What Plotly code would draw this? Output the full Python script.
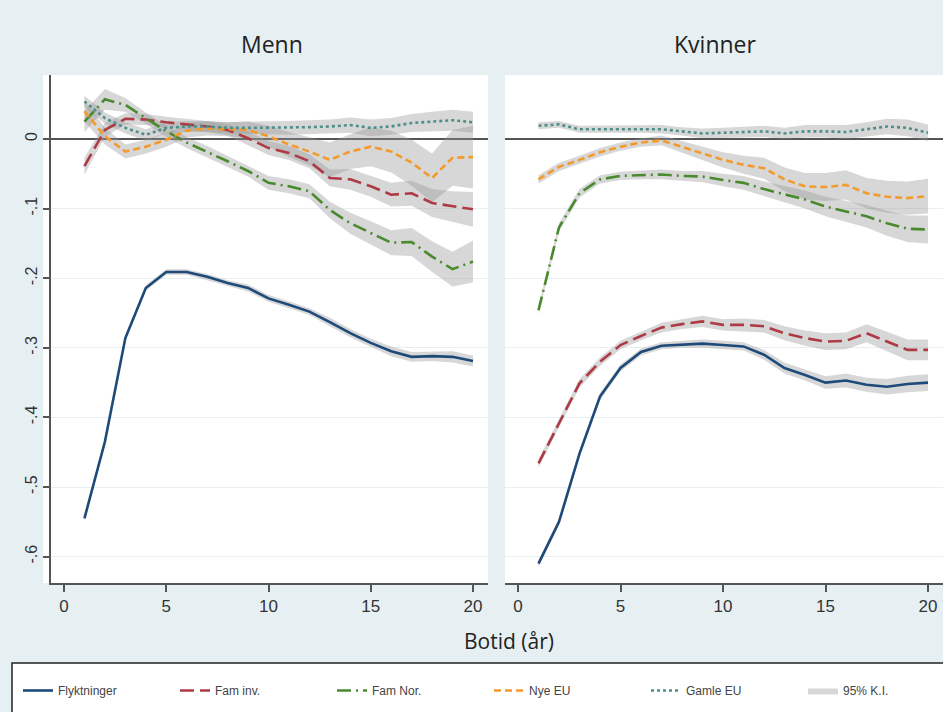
import plotly.graph_objects as go

years = list(range(1, 21))
series_names = ["Flyktninger", "Fam inv.", "Fam Nor.", "Nye EU", "Gamle EU"]
ci_label = "95% K.I."
panel_titles = ["Menn", "Kvinner"]
x_title = "Botid (år)"
y_tickvals = [0, -0.1, -0.2, -0.3, -0.4, -0.5, -0.6]
y_ticktext = ["0", "-.1", "-.2", "-.3", "-.4", "-.5", "-.6"]
x_tickvals = [0, 5, 10, 15, 20]

# ---- Menn (men) ----
men_flykt = [-0.545, -0.435, -0.286, -0.214, -0.191, -0.191, -0.198, -0.207, -0.214, -0.229,
             -0.238, -0.248, -0.263, -0.279, -0.293, -0.305, -0.313, -0.312, -0.313, -0.319]
men_faminv = [-0.039, 0.013, 0.029, 0.028, 0.024, 0.021, 0.018, 0.013, 0.001, -0.013,
              -0.020, -0.032, -0.056, -0.058, -0.068, -0.080, -0.078, -0.092, -0.097, -0.101]
men_famnor = [0.025, 0.057, 0.049, 0.030, 0.011, -0.005, -0.018, -0.032, -0.046, -0.063,
              -0.068, -0.075, -0.102, -0.121, -0.135, -0.149, -0.148, -0.169, -0.187, -0.176]
men_nyeeu = [0.040, 0.004, -0.018, -0.011, -0.001, 0.012, 0.015, 0.014, 0.013, 0.004,
             -0.008, -0.018, -0.030, -0.018, -0.011, -0.018, -0.034, -0.056, -0.027, -0.026]
men_gamleeu = [0.054, 0.030, 0.016, 0.006, 0.016, 0.018, 0.018, 0.016, 0.016, 0.016,
               0.016, 0.017, 0.018, 0.020, 0.016, 0.018, 0.023, 0.025, 0.027, 0.024]

men_flykt_ci = [0.004, 0.004, 0.004, 0.004, 0.004, 0.004, 0.004, 0.004, 0.005, 0.005,
                0.005, 0.005, 0.006, 0.006, 0.006, 0.007, 0.007, 0.007, 0.008, 0.008]
men_faminv_ci = [0.012, 0.010, 0.008, 0.008, 0.008, 0.008, 0.008, 0.008, 0.010, 0.010,
                 0.010, 0.010, 0.012, 0.015, 0.015, 0.017, 0.018, 0.020, 0.022, 0.025]
men_famnor_ci = [0.015, 0.015, 0.010, 0.008, 0.008, 0.008, 0.008, 0.008, 0.008, 0.010,
                 0.010, 0.010, 0.012, 0.015, 0.017, 0.018, 0.020, 0.022, 0.025, 0.030]
men_nyeeu_ci = [0.015, 0.012, 0.010, 0.010, 0.010, 0.010, 0.010, 0.010, 0.012, 0.015,
                0.018, 0.020, 0.025, 0.025, 0.028, 0.030, 0.033, 0.035, 0.040, 0.045]
men_gamleeu_ci = [0.008, 0.008, 0.008, 0.008, 0.008, 0.008, 0.008, 0.008, 0.009, 0.009,
                  0.010, 0.010, 0.010, 0.011, 0.012, 0.012, 0.013, 0.014, 0.015, 0.015]

# ---- Kvinner (women) ----
wom_flykt = [-0.610, -0.550, -0.452, -0.370, -0.329, -0.306, -0.297, -0.295, -0.294, -0.296,
             -0.298, -0.310, -0.329, -0.339, -0.350, -0.347, -0.353, -0.356, -0.352, -0.350]
wom_faminv = [-0.466, -0.408, -0.351, -0.320, -0.296, -0.283, -0.271, -0.266, -0.262, -0.267,
              -0.267, -0.269, -0.279, -0.286, -0.291, -0.290, -0.279, -0.291, -0.303, -0.303]
wom_famnor = [-0.246, -0.127, -0.078, -0.058, -0.053, -0.052, -0.051, -0.053, -0.054, -0.059,
              -0.063, -0.072, -0.079, -0.087, -0.097, -0.104, -0.111, -0.121, -0.129, -0.130]
wom_nyeeu = [-0.058, -0.040, -0.030, -0.019, -0.011, -0.005, -0.002, -0.011, -0.020, -0.030,
             -0.037, -0.042, -0.058, -0.068, -0.069, -0.066, -0.078, -0.083, -0.085, -0.082]
wom_gamleeu = [0.019, 0.021, 0.014, 0.014, 0.014, 0.014, 0.014, 0.011, 0.008, 0.009,
               0.010, 0.011, 0.008, 0.011, 0.011, 0.010, 0.014, 0.018, 0.016, 0.009]

wom_flykt_ci = [0.005, 0.005, 0.005, 0.005, 0.005, 0.005, 0.005, 0.005, 0.006, 0.006,
                0.006, 0.007, 0.008, 0.008, 0.009, 0.010, 0.010, 0.011, 0.012, 0.012]
wom_faminv_ci = [0.006, 0.006, 0.006, 0.006, 0.006, 0.006, 0.007, 0.007, 0.008, 0.008,
                 0.009, 0.009, 0.010, 0.011, 0.012, 0.012, 0.013, 0.014, 0.015, 0.015]
wom_famnor_ci = [0.006, 0.006, 0.006, 0.006, 0.006, 0.006, 0.007, 0.007, 0.008, 0.009,
                 0.010, 0.011, 0.012, 0.013, 0.014, 0.015, 0.016, 0.018, 0.019, 0.020]
wom_nyeeu_ci = [0.006, 0.006, 0.006, 0.006, 0.006, 0.006, 0.007, 0.008, 0.010, 0.011,
                0.013, 0.015, 0.017, 0.019, 0.020, 0.021, 0.022, 0.023, 0.024, 0.025]
wom_gamleeu_ci = [0.005, 0.005, 0.005, 0.005, 0.005, 0.005, 0.006, 0.006, 0.007, 0.007,
                  0.008, 0.008, 0.008, 0.009, 0.009, 0.010, 0.010, 0.011, 0.012, 0.012]

colors = ["#1d4a78", "#ad3a45", "#4a8a2e", "#f39a2c", "#4f8f8a"]
dashes = ["solid", "14px,6px", "14px,5px,2px,5px", "7px,4px", "3px,3px"]
band_color = "rgba(150,150,150,0.38)"
bg = "#e6f0f3"

panels = [
    ([men_flykt, men_faminv, men_famnor, men_nyeeu, men_gamleeu],
     [men_flykt_ci, men_faminv_ci, men_famnor_ci, men_nyeeu_ci, men_gamleeu_ci], "x", "y"),
    ([wom_flykt, wom_faminv, wom_famnor, wom_nyeeu, wom_gamleeu],
     [wom_flykt_ci, wom_faminv_ci, wom_famnor_ci, wom_nyeeu_ci, wom_gamleeu_ci], "x2", "y2"),
]

fig = go.Figure()
ci_shown = False
for vals, cis, xa, ya in panels:
    for v, c in zip(vals, cis):
        upper = [a + b for a, b in zip(v, c)]
        lower = [a - b for a, b in zip(v, c)]
        fig.add_trace(go.Scatter(
            x=years + years[::-1], y=upper + lower[::-1],
            fill="toself", fillcolor=band_color, line=dict(width=0),
            mode="lines", name=ci_label, legendgroup="ci",
            showlegend=not ci_shown, legendrank=6, hoverinfo="skip",
            xaxis=xa, yaxis=ya))
        ci_shown = True
for pi, (vals, cis, xa, ya) in enumerate(panels):
    for i, v in enumerate(vals):
        fig.add_trace(go.Scatter(
            x=years, y=v, mode="lines", name=series_names[i],
            line=dict(color=colors[i], width=2.6, dash=dashes[i]),
            legendgroup=series_names[i], showlegend=(pi == 0),
            legendrank=i + 1, xaxis=xa, yaxis=ya))

W, H = 943, 712
top_px, bot_px = 75, 583
ydom = [1 - bot_px / H, 1 - top_px / H]
yrange = [(139 - bot_px) / 696, (139 - top_px) / 696]

axis_font = dict(family="Liberation Sans, Arial, sans-serif", size=17, color="#333")
title_font = dict(family="Open Sans, sans-serif", size=23, color="#222")

fig.update_layout(
    width=W, height=H,
    margin=dict(l=0, r=0, t=0, b=0, autoexpand=False),
    paper_bgcolor=bg, plot_bgcolor="white",
    showlegend=True,
    xaxis=dict(domain=[51 / W, 488 / W], range=[(51 - 64) / 20.45, (488 - 64) / 20.45],
               tickvals=x_tickvals, ticks="outside", ticklen=7, tickwidth=1.5,
               tickcolor="#555", showline=True, linecolor="#555", linewidth=1.5,
               showgrid=False, zeroline=False, tickfont=axis_font, anchor="y"),
    yaxis=dict(domain=ydom, range=yrange, tickvals=y_tickvals, ticktext=y_ticktext,
               tickangle=-90, ticks="outside", ticklen=6, tickwidth=1.5, tickcolor="#555",
               showline=True, linecolor="#555", linewidth=1.5,
               showgrid=True, gridcolor="#e8eff1", gridwidth=1,
               zeroline=True, zerolinecolor="#555", zerolinewidth=1.5,
               tickfont=dict(family="Liberation Sans, Arial, sans-serif", size=16, color="#333"),
               anchor="x"),
    xaxis2=dict(domain=[505 / W, 1.0], range=[(505 - 518) / 20.5, (943 - 518) / 20.5],
                tickvals=x_tickvals, ticks="outside", ticklen=7, tickwidth=1.5,
                tickcolor="#555", showline=True, linecolor="#555", linewidth=1.5,
                showgrid=False, zeroline=False, tickfont=axis_font, anchor="y2"),
    yaxis2=dict(domain=ydom, range=yrange, tickvals=y_tickvals, showticklabels=False,
                ticks="", showline=False,
                showgrid=True, gridcolor="#e8eff1", gridwidth=1,
                zeroline=True, zerolinecolor="#555", zerolinewidth=1.5, anchor="x2"),
    legend=dict(orientation="h", x=18 / W, xanchor="left", y=1 - 676 / H, yanchor="top",
                bgcolor="rgba(0,0,0,0)", borderwidth=0,
                entrywidth=112, entrywidthmode="pixels",
                font=dict(family="Liberation Sans, Arial, sans-serif", size=12, color="#444")),
    shapes=[
        dict(type="rect", xref="paper", yref="paper", x0=43 / W, x1=51 / W,
             y0=ydom[0], y1=ydom[1], fillcolor="white", line=dict(width=0), layer="below"),
        dict(type="rect", xref="paper", yref="paper", x0=12 / W, x1=1.02,
             y0=-0.02, y1=1 - 663 / H, fillcolor="white",
             line=dict(color="#222", width=1.5), layer="below"),
    ],
    annotations=[
        dict(text=panel_titles[0], x=272 / W, y=1 - 44 / H, xref="paper", yref="paper",
             xanchor="center", yanchor="middle", showarrow=False, font=title_font),
        dict(text=panel_titles[1], x=715 / W, y=1 - 44 / H, xref="paper", yref="paper",
             xanchor="center", yanchor="middle", showarrow=False, font=title_font),
        dict(text=x_title, x=509 / W, y=1 - 641 / H, xref="paper", yref="paper",
             xanchor="center", yanchor="middle", showarrow=False,
             font=dict(family="Open Sans, sans-serif", size=21, color="#222")),
    ],
)

fig.write_html("out.html", config={"displayModeBar": False},
               post_script="document.body.style.margin='0';")
